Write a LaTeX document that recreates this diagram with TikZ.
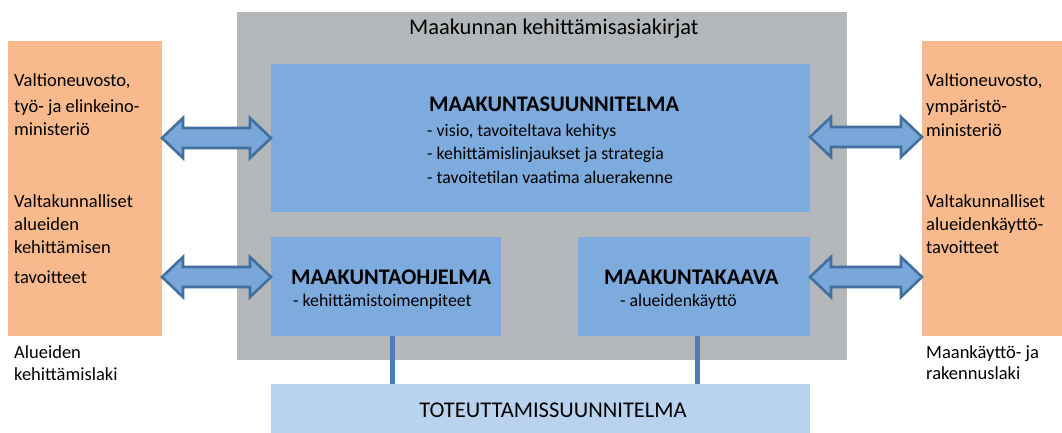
\documentclass[tikz,border=0pt]{standalone}
\usepackage{fontspec}
\setmainfont{Carlito}
\usetikzlibrary{calc}
\definecolor{grayb}{HTML}{B4B7B9}
\definecolor{blueb}{HTML}{7EABDD}
\definecolor{orangeb}{HTML}{F8BA8C}
\definecolor{lightb}{HTML}{B9D3EE}
\definecolor{arrfill}{HTML}{7AA7D9}
\definecolor{arrdraw}{HTML}{41709F}
\definecolor{linkc}{HTML}{4A7EBB}
\newcommand{\dblarr}[2]{%
  \path let \p1=(#1), \p2=(#2) in [arrowshape]
    (\x1,\y1) -- ++(21pt,20pt) -- ++(0pt,-10pt) -- (\x2-21pt,\y2+10pt) -- ++(0pt,10pt)
    -- (\x2,\y2) -- ++(-21pt,-20pt) -- ++(0pt,10pt) -- (\x1+21pt,\y1-10pt) -- ++(0pt,-10pt) -- cycle;}
\begin{document}
\begin{tikzpicture}[x=1pt,y=-1pt,
  box/.style={inner sep=0pt,outer sep=0pt,draw=none},
  graybox/.style={box,fill=grayb},
  bluebox/.style={box,fill=blueb},
  orangebox/.style={box,fill=orangeb},
  lightbox/.style={box,fill=lightb},
  arrowshape/.style={fill=arrfill,draw=arrdraw,line width=2.6pt,line join=miter},
  link/.style={draw=linkc,line width=5pt},
  txt/.style={anchor=base west,inner sep=0pt,font=\fontsize{18.5}{21}\selectfont},
  btxt/.style={anchor=base west,inner sep=0pt,font=\fontsize{17.8}{21}\selectfont},
  hdr/.style={anchor=base west,inner sep=0pt,font=\fontsize{22.3}{26}\selectfont\bfseries}]
\useasboundingbox (0,0) rectangle (1062,432);
\fill[white] (0,0) rectangle (1062,432);
% boxes
\node[graybox,minimum width=610pt,minimum height=348pt] (gray) at (542,186) {};
\node[bluebox,minimum width=539pt,minimum height=148pt] (top) at (540.5,138) {};
\node[bluebox,minimum width=230pt,minimum height=99pt] (lbl) at (386,286.5) {};
\node[bluebox,minimum width=232pt,minimum height=99pt] (rbl) at (694,286.5) {};
\node[lightbox,minimum width=539pt,minimum height=56pt] (tot) at (540.5,412) {};
\node[orangebox,minimum width=154pt,minimum height=295pt] (lo) at (85,188.5) {};
\node[orangebox,minimum width=148pt,minimum height=295pt] (ro) at (996,188.5) {};
% connectors
\draw[link] ([xshift=6pt]lbl.south) -- ([xshift=6pt]lbl.south |- tot.north);
\draw[link] ([xshift=3pt]rbl.south) -- ([xshift=3pt]rbl.south |- tot.north);
% double arrows
\dblarr{lo.east |- 0,138}{top.west |- 0,138}
\dblarr{lo.east |- 0,277}{lbl.west |- 0,277}
\dblarr{top.east |- 0,137}{ro.west |- 0,137}
\dblarr{rbl.east |- 0,277}{ro.west |- 0,277}
% title
\node[anchor=base west,inner sep=0pt,font=\fontsize{22.4}{26}\selectfont] (title) at (409,34) {Maakunnan kehittämisasiakirjat};
% top blue text
\node[hdr] (h1) at (429,111) {MAAKUNTASUUNNITELMA};
\node[btxt] (b1) at (427,136) {- visio, tavoiteltava kehitys};
\node[btxt] (b2) at (427,159) {- kehittämislinjaukset ja strategia};
\node[btxt] (b3) at (427,183) {- tavoitetilan vaatima aluerakenne};
% lower blue texts
\node[hdr] (h2) at (291,284) {MAAKUNTAOHJELMA};
\node[btxt] (b4) at (293,306) {- kehittämistoimenpiteet};
\node[hdr] (h3) at (604,284) {MAAKUNTAKAAVA};
\node[btxt] (b5) at (620,306) {- alueidenkäyttö};
% bottom
\node[inner sep=0pt,font=\fontsize{22.5}{26}\selectfont] (totx) at (553,410) {TOTEUTTAMISSUUNNITELMA};
% left orange text
\node[txt] (l1) at (14,86) {Valtioneuvosto,};
\node[txt] (l2) at (14,112) {työ- ja elinkeino-};
\node[txt] (l3) at (14,135) {ministeriö};
\node[txt] (l4) at (14,207) {Valtakunnalliset};
\node[txt] (l5) at (14,230) {alueiden};
\node[txt] (l6) at (14,253) {kehittämisen};
\node[txt] (l7) at (14,283) {tavoitteet};
\node[txt] (l8) at (14,358) {Alueiden};
\node[txt] (l9) at (14,380) {kehittämislaki};
% right orange text
\node[txt] (r1) at (926,86) {Valtioneuvosto,};
\node[txt] (r2) at (926,112) {ympäristö-};
\node[txt] (r3) at (926,136) {ministeriö};
\node[txt] (r4) at (926,207) {Valtakunnalliset};
\node[txt] (r5) at (926,230) {alueidenkäyttö-};
\node[txt] (r6) at (926,253) {tavoitteet};
\node[txt] (r7) at (926,358) {Maankäyttö- ja};
\node[txt] (r8) at (926,379) {rakennuslaki};
\end{tikzpicture}
\end{document}
